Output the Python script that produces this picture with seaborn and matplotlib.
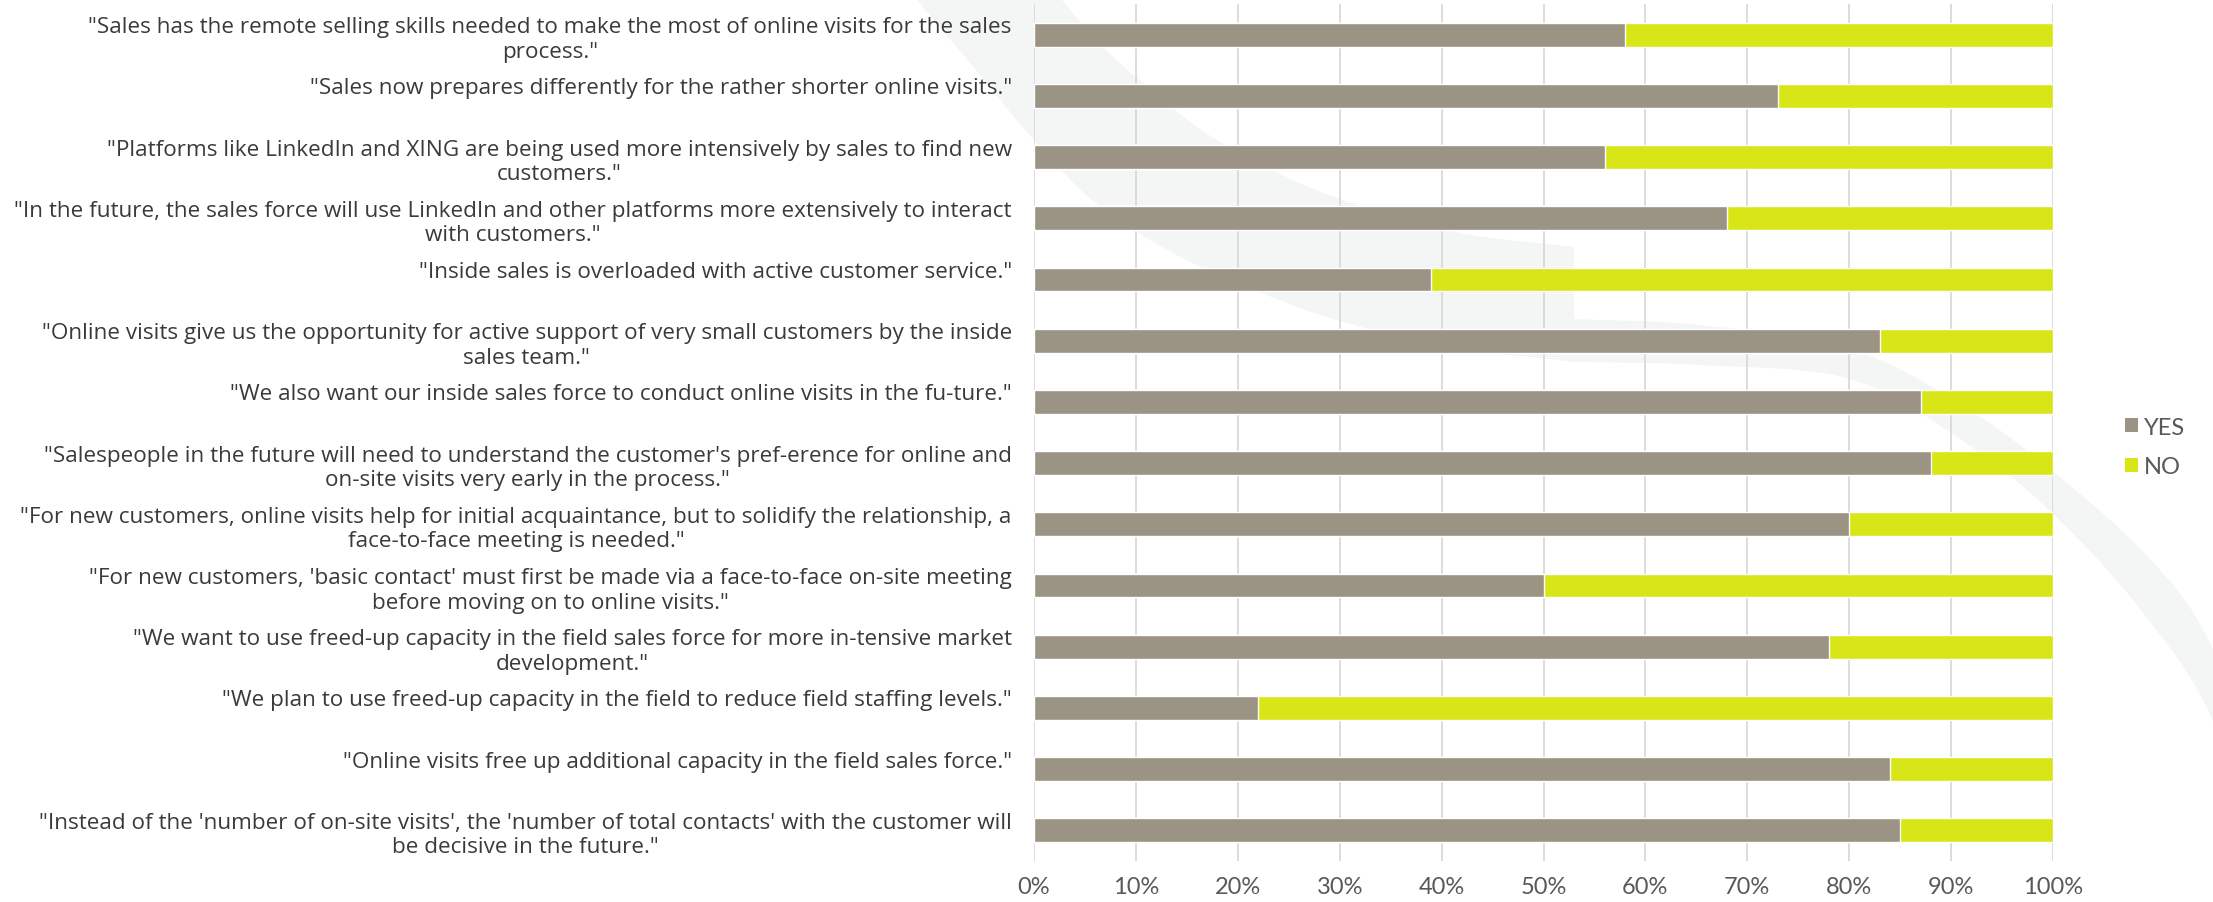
import numpy as np
import pandas as pd
import matplotlib
matplotlib.use("Agg")
import matplotlib.pyplot as plt
from matplotlib.patches import Polygon, Patch
import matplotlib.transforms as mtransforms
import seaborn as sns

# Survey statements (top to bottom) and answer shares in percent
statements = [
    "\"Sales has the remote selling skills needed to make the most of online visits for the sales\nprocess.\"",
    "\"Sales now prepares differently for the rather shorter online visits.\"\n ",
    "\"Platforms like LinkedIn and XING are being used more intensively by sales to find new\ncustomers.\"",
    "\"In the future, the sales force will use LinkedIn and other platforms more extensively to interact\nwith customers.\"",
    "\"Inside sales is overloaded with active customer service.\"\n ",
    "\"Online visits give us the opportunity for active support of very small customers by the inside\nsales team.\"",
    "\"We also want our inside sales force to conduct online visits in the fu-ture.\"\n ",
    "\"Salespeople in the future will need to understand the customer's pref-erence for online and\non-site visits very early in the process.\"",
    "\"For new customers, online visits help for initial acquaintance, but to solidify the relationship, a\nface-to-face meeting is needed.\"",
    "\"For new customers, 'basic contact' must first be made via a face-to-face on-site meeting\nbefore moving on to online visits.\"",
    "\"We want to use freed-up capacity in the field sales force for more in-tensive market\ndevelopment.\"",
    "\"We plan to use freed-up capacity in the field to reduce field staffing levels.\"\n ",
    "\"Online visits free up additional capacity in the field sales force.\"\n ",
    "\"Instead of the 'number of on-site visits', the 'number of total contacts' with the customer will\nbe decisive in the future.\"",
]
yes_share = [58, 73, 56, 68, 39, 83, 87, 88, 80, 50, 78, 22, 84, 85]
no_share = [42, 27, 44, 32, 61, 17, 13, 12, 20, 50, 22, 78, 16, 15]
series_names = ["YES", "NO"]
x_ticks = [0, 10, 20, 30, 40, 50, 60, 70, 80, 90, 100]

YES_COLOR = "#9b9384"
NO_COLOR = "#d8e516"
GRID_COLOR = "#d9d9d9"
LABEL_COLOR = "#3a3a3a"
TICK_COLOR = "#595959"
MARK_COLOR = "#f4f6f5"

sns.set_style("white")
plt.rcParams["font.family"] = ["Lato", "DejaVu Sans"]

df = pd.DataFrame({"statement": statements, "yes": yes_share, "no": no_share})
df["total"] = df["yes"] + df["no"]

W, H = 2213, 903
fig = plt.figure(figsize=(W / 100, H / 100), dpi=100)
fig.patch.set_facecolor("white")


def spline(points, n=24):
    """Catmull-Rom curve through the given anchor points."""
    p = np.asarray(points, dtype=float)
    p = np.vstack([2 * p[0] - p[1], p, 2 * p[-1] - p[-2]])
    out = []
    t = np.linspace(0, 1, n, endpoint=False)[:, None]
    for i in range(1, len(p) - 2):
        p0, p1, p2, p3 = p[i - 1], p[i], p[i + 1], p[i + 2]
        out.append(0.5 * ((2 * p1) + (-p0 + p2) * t
                          + (2 * p0 - 5 * p1 + 4 * p2 - p3) * t ** 2
                          + (-p0 + 3 * p1 - 3 * p2 + p3) * t ** 3))
    out.append(p[-2][None, :])
    return np.vstack(out)


# faint logo mark in the background, laid out in pixel units from the top-left
px = mtransforms.Affine2D().scale(1 / W, -1 / H).translate(0, 1) + fig.transFigure
hook_upper = spline([(1057, -5), (1100, 45), (1150, 90), (1200, 130), (1262, 166),
                     (1340, 200), (1455, 233), (1574, 248)])
hook_lower = spline([(1574, 363), (1443, 347), (1340, 322), (1279, 301), (1199, 267),
                     (1137, 233), (1085, 195), (1033, 140), (975, 70), (912, -5)])
band_upper = spline([(1574, 320), (1700, 326), (1850, 350), (1960, 405), (2050, 470),
                     (2150, 560), (2213, 650), (2300, 860)])
band_lower = spline([(2350, 950), (2270, 903), (2213, 722), (2140, 610), (2050, 512),
                     (1960, 440), (1850, 380), (1700, 366), (1574, 363)])
for outline in (np.vstack([hook_upper, hook_lower]), np.vstack([band_upper, band_lower])):
    fig.add_artist(Polygon(outline, closed=True, transform=px, facecolor=MARK_COLOR,
                           edgecolor="none", zorder=-5))

ax = fig.add_axes([1034 / W, 1 - 862 / H, (2053 - 1034) / W, (862 - 5) / H])
ax.set_facecolor("none")

sns.barplot(data=df, y="statement", x="total", orient="h", color=NO_COLOR,
            width=0.39, saturation=1, ax=ax, zorder=2)
sns.barplot(data=df, y="statement", x="yes", orient="h", color=YES_COLOR,
            width=0.39, saturation=1, ax=ax, zorder=3)

ax.set_xlim(0, 100)
ax.set_ylim(len(statements) - 0.5, -0.5)
ax.set_xticks(x_ticks)
ax.set_xticklabels([f"{t}%" for t in x_ticks])
ax.set_xlabel("")
ax.set_ylabel("")

ax.set_axisbelow(True)
ax.grid(axis="x", color=GRID_COLOR, linewidth=1.3)
ax.grid(axis="y", visible=False)
for side in ax.spines.values():
    side.set_visible(False)

ax.tick_params(axis="x", length=0, pad=11, labelsize=17, labelcolor=TICK_COLOR)
ax.tick_params(axis="y", length=0, pad=16, labelcolor=LABEL_COLOR)
for lab in ax.get_yticklabels():
    lab.set_family(["Open Sans", "DejaVu Sans"])
    lab.set_fontsize(16.2)
    lab.set_multialignment("center")
    lab.set_linespacing(1.22)

handles = [Patch(facecolor=YES_COLOR, edgecolor="none"),
           Patch(facecolor=NO_COLOR, edgecolor="none")]
leg = fig.legend(handles, series_names, loc="center left",
                 bbox_to_anchor=(2125 / W, 1 - 448 / H), frameon=False,
                 fontsize=17, handlelength=0.55, handleheight=0.55,
                 handletextpad=0.25, labelspacing=0.8, borderpad=0,
                 borderaxespad=0)
for t in leg.get_texts():
    t.set_color(TICK_COLOR)

fig.savefig("out.png", dpi=100, facecolor="white")
